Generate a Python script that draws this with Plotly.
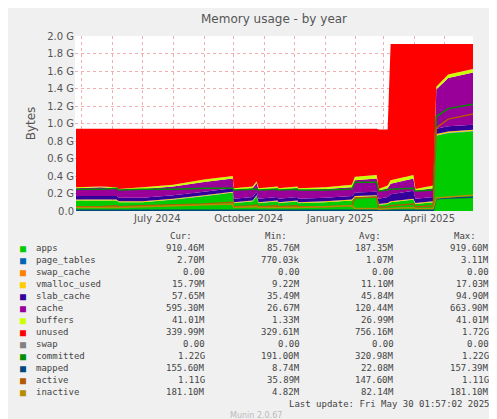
import plotly.graph_objects as go

dates = ["2024-04-25","2024-05-20","2024-06-05","2024-06-07","2024-07-01","2024-08-01","2024-09-01","2024-09-30",
         "2024-10-01","2024-10-20","2024-10-24","2024-10-26","2024-11-14","2024-11-15","2024-12-04","2024-12-05",
         "2025-01-01","2025-01-28","2025-01-31","2025-02-22","2025-02-24","2025-03-05","2025-03-08","2025-03-31",
         "2025-04-02","2025-04-20","2025-04-23","2025-05-05","2025-05-30"]
apps =        [0.12,0.12,0.12,0.10,0.10,0.13,0.17,0.21, 0.09,0.11,0.17,0.09,0.11,0.09,0.11,0.09, 0.10,0.12,0.16,0.17,0.07,0.08,0.10,0.13, 0.08,0.10,0.86,0.89,0.91]
page_tables = [0.001]*26 + [0.003,0.003,0.003]
swap_cache =  [0.0]*29
vmalloc =     [0.01]*26 + [0.016,0.016,0.016]
slab =        [0.04,0.04,0.04,0.04,0.04,0.04,0.04,0.04, 0.04,0.04,0.04,0.04,0.04,0.04,0.04,0.04, 0.04,0.04,0.04,0.04,0.06,0.07,0.08,0.09, 0.05,0.05,0.06,0.06,0.058]
cache =       [0.09,0.10,0.09,0.09,0.10,0.10,0.11,0.11, 0.10,0.10,0.10,0.10,0.10,0.10,0.10,0.10, 0.10,0.10,0.14,0.15,0.09,0.10,0.12,0.14, 0.09,0.10,0.45,0.55,0.595]
buffers =     [0.01,0.01,0.01,0.01,0.02,0.02,0.03,0.03, 0.02,0.02,0.02,0.02,0.02,0.02,0.02,0.02, 0.02,0.03,0.04,0.04,0.02,0.03,0.04,0.04, 0.02,0.03,0.03,0.04,0.041]
ram_total =   [0.94]*20 + [0.93,0.93,1.91,1.91,1.91,1.91,1.91,1.91,1.91]
unused = [t - a - p - s - v - sl - c - b for t, a, p, s, v, sl, c, b in
          zip(ram_total, apps, page_tables, swap_cache, vmalloc, slab, cache, buffers)]
swap = [0.0]*29
committed =   [0.25,0.25,0.26,0.24,0.25,0.25,0.26,0.26, 0.24,0.25,0.25,0.24,0.25,0.24,0.25,0.24, 0.24,0.25,0.33,0.33,0.23,0.24,0.25,0.26, 0.23,0.24,1.08,1.17,1.22]
mapped =      [0.01]*26 + [0.14,0.15,0.156]
active =      [0.05,0.05,0.06,0.05,0.06,0.07,0.08,0.10, 0.05,0.06,0.07,0.05,0.06,0.05,0.06,0.05, 0.05,0.06,0.15,0.16,0.04,0.05,0.06,0.08, 0.05,0.06,0.95,1.05,1.11]
inactive =    [0.04,0.04,0.04,0.04,0.05,0.06,0.07,0.08, 0.04,0.05,0.05,0.04,0.04,0.04,0.04,0.04, 0.05,0.06,0.03,0.03,0.02,0.03,0.03,0.04, 0.03,0.03,0.15,0.16,0.181]

stack_series = [("apps", apps, "#00CC00"), ("page_tables", page_tables, "#0066B3"),
                ("swap_cache", swap_cache, "#FF8000"), ("vmalloc_used", vmalloc, "#FFCC00"),
                ("slab_cache", slab, "#330099"), ("cache", cache, "#990099"),
                ("buffers", buffers, "#CCFF00"), ("unused", unused, "#FF0000"), ("swap", swap, "#808080")]
line_series = [("committed", committed, "#008F00"), ("mapped", mapped, "#00487D"),
               ("active", active, "#B35A00"), ("inactive", inactive, "#B38F00")]

legend_rows = [("apps","910.46M","85.76M","187.35M","919.60M","#00CC00"),
               ("page_tables","2.70M","770.03k","1.07M","3.11M","#0066B3"),
               ("swap_cache","0.00","0.00","0.00","0.00","#FF8000"),
               ("vmalloc_used","15.79M","9.22M","11.10M","17.03M","#FFCC00"),
               ("slab_cache","57.65M","35.49M","45.84M","94.90M","#330099"),
               ("cache","595.30M","26.67M","120.44M","663.90M","#990099"),
               ("buffers","41.01M","1.33M","26.99M","41.01M","#CCFF00"),
               ("unused","339.99M","329.61M","756.16M","1.72G","#FF0000"),
               ("swap","0.00","0.00","0.00","0.00","#808080"),
               ("committed","1.22G","191.00M","320.98M","1.22G","#008F00"),
               ("mapped","155.60M","8.74M","22.08M","157.39M","#00487D"),
               ("active","1.11G","35.89M","147.60M","1.11G","#B35A00"),
               ("inactive","181.10M","4.82M","82.14M","181.10M","#B38F00")]

fig = go.Figure()
for name, vals, col in stack_series:
    fig.add_trace(go.Scatter(x=dates, y=vals, name=name, stackgroup="s", mode="none", fillcolor=col))
for name, vals, col in line_series:
    fig.add_trace(go.Scatter(x=dates, y=vals, name=name, mode="lines", line=dict(color=col, width=1.5)))

mono = "DejaVu Sans Mono"
ann = []
W, H = 497, 419
def px(x, y, text, anchor="left", color="#444", size=9, family=mono, **kw):
    ann.append(dict(x=x, y=y, xref="paper", yref="paper", text=text, showarrow=False,
                    xanchor=anchor, yanchor="middle", font=dict(family=family, size=size, color=color), **kw))

for hdr, xx in [("Cur:", 186), ("Min:", 281), ("Avg:", 375), ("Max:", 470)]:
    px(xx, 228, hdr, "right")
for i, (n, c, mi, av, ma, col) in enumerate(legend_rows):
    y = 240 + 12 * i
    px(10, y, "■", "left", color=col, size=10)
    px(26, y, n)
    px(199, y, c, "right"); px(294, y, mi, "right"); px(388, y, av, "right"); px(483, y, ma, "right")
px(483, 396, "Last update: Fri May 30 01:57:02 2025", "right")
px(248, 408, "Munin 2.0.67", "center", color="#BBBBBB", size=8, family="DejaVu Sans")
px(486, 60, "RRDTOOL / TOBI OETIKER", "center", color="#BBBBBB", size=7, family="DejaVu Sans", textangle=90)

L, R, T, B = 67, 32, 28, 216
for a in ann:
    xp, yp = a["x"], a["y"]
    a["x"] = (xp - L) / (W - L - R)
    a["y"] = 1 - (yp - T) / (H - T - B)

fig.update_layout(
    width=W, height=H, margin=dict(l=L, r=R, t=T, b=B),
    paper_bgcolor="#F0F0F0", plot_bgcolor="#FFFFFF", showlegend=False,
    title=dict(text="Memory usage - by year", x=0.5, xref="paper", y=0.985, yanchor="top",
               font=dict(family="DejaVu Sans", size=12, color="#555")),
    font=dict(family="DejaVu Sans", size=10, color="#555"),
    annotations=ann,
    xaxis=dict(range=["2024-04-24", "2025-05-30"], tickvals=["2024-07-16", "2024-10-16", "2025-01-16", "2025-04-16"],
               ticktext=["July 2024", "October 2024", "January 2025", "April 2025"],
               showgrid=False, ticks="", zeroline=False, showline=False, automargin=False,
               minor=dict(tick0="2024-05-01", dtick="M1", showgrid=True, gridcolor="rgba(230,120,120,0.6)",
                          griddash="dot", gridwidth=1)),
    yaxis=dict(range=[0, 2.0], tickvals=[i * 0.2 for i in range(11)],
               ticktext=["0.0"] + [f"{i*0.2:.1f} G" for i in range(1, 11)],
               gridcolor="rgba(230,120,120,0.6)", griddash="dot", gridwidth=1, zeroline=False,
               title=dict(text="Bytes", standoff=8), ticks="", automargin=False),
)
fig.write_html("out.html")
